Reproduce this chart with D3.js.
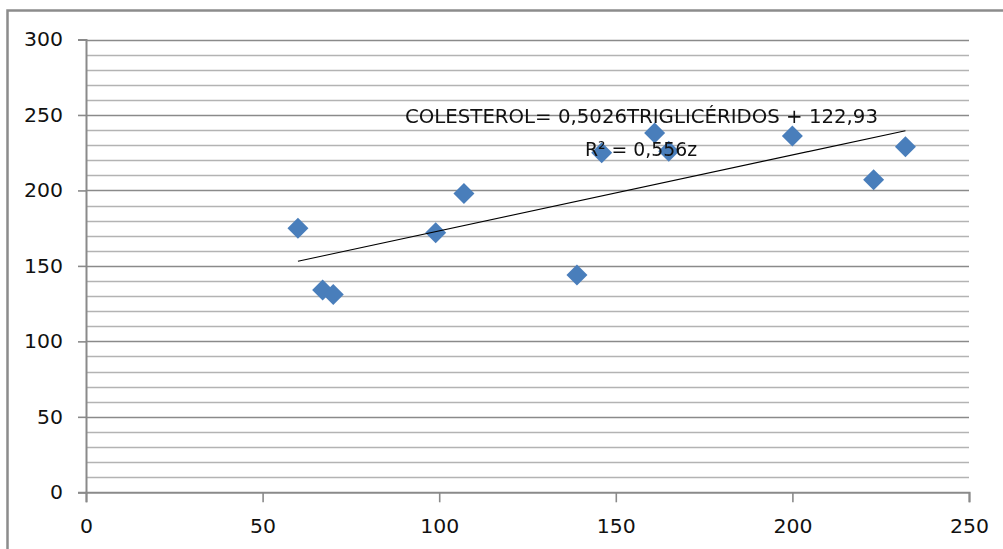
<!DOCTYPE html>
<html>
<head>
<meta charset="utf-8">
<script src="https://cdn.jsdelivr.net/npm/d3@7"></script>
<style>
  html, body { margin: 0; padding: 0; background: #fff; }
  svg { display: block; }
  text { font-family: "DejaVu Sans", "Liberation Sans", sans-serif; fill: #111; }
</style>
</head>
<body>
<svg id="chart" width="1003" height="549"></svg>
<script>
// Triglicéridos (x) vs. colesterol (y)
const trigliceridos = [60, 67, 70, 99, 107, 139, 146, 161, 165, 200, 223, 232];
const colesterol    = [175, 134, 131, 172, 198, 144, 225, 238, 226, 236, 207, 229];

const xTicks = [0, 50, 100, 150, 200, 250];
const yTicks = [0, 50, 100, 150, 200, 250, 300];
const yMinor = d3.range(0, 301, 10);

// Linear trendline as reported on the chart
const slope = 0.5026;
const intercept = 122.93;
const equationLabel = "COLESTEROL= 0,5026TRIGLICÉRIDOS + 122,93";
const r2Label = "R² = 0,556z";

const svg = d3.select("#chart");
const W = 1003, H = 549;
const plot = { left: 86, right: 969, top: 39.5, bottom: 492.3 };

const x = d3.scaleLinear().domain([0, 250]).range([plot.left, plot.right]);
const y = d3.scaleLinear().domain([0, 300]).range([plot.bottom, plot.top]);

// Chart area border
svg.append("rect")
  .attr("x", 7.5).attr("y", 10.5)
  .attr("width", W + 10).attr("height", H + 10)
  .attr("fill", "#fff")
  .attr("stroke", "#8c8c8c").attr("stroke-width", 2.5);

// Minor gridlines
svg.append("g").selectAll("line")
  .data(yMinor.filter(v => v % 50 !== 0))
  .join("line")
  .attr("x1", plot.left).attr("x2", plot.right)
  .attr("y1", d => Math.round(y(d)) + 0.5).attr("y2", d => Math.round(y(d)) + 0.5)
  .attr("stroke", "#b3b3b3").attr("stroke-width", 1.6);

// Major gridlines
svg.append("g").selectAll("line")
  .data(yTicks.filter(v => v > 0))
  .join("line")
  .attr("x1", plot.left).attr("x2", plot.right)
  .attr("y1", d => Math.round(y(d)) + 0.5).attr("y2", d => Math.round(y(d)) + 0.5)
  .attr("stroke", "#8a8a8a").attr("stroke-width", 1.6);

// Y axis
const yAxis = d3.axisLeft(y).tickValues(yTicks).tickSize(8).tickPadding(15);
const gy = svg.append("g").attr("transform", `translate(${plot.left},0)`).call(yAxis);
gy.select(".domain").attr("stroke", "#8a8a8a").attr("stroke-width", 2);
gy.selectAll(".tick line").attr("stroke", "#8a8a8a").attr("stroke-width", 1.6);
gy.selectAll(".tick text")
  .attr("font-size", 19.5).attr("fill", "#111")
  .attr("font-family", "DejaVu Sans")
  .attr("textLength", d => String(d).length * 13)
  .attr("lengthAdjust", "spacingAndGlyphs");

// X axis
const xAxis = d3.axisBottom(x).tickValues(xTicks).tickSize(10).tickPadding(17);
const gx = svg.append("g").attr("transform", `translate(0,${plot.bottom})`).call(xAxis);
gx.select(".domain").attr("stroke", "#8a8a8a").attr("stroke-width", 2);
gx.selectAll(".tick line").attr("stroke", "#8a8a8a").attr("stroke-width", 1.6);
gx.selectAll(".tick text")
  .attr("font-size", 19.5).attr("fill", "#111")
  .attr("font-family", "DejaVu Sans")
  .attr("textLength", d => String(d).length * 13)
  .attr("lengthAdjust", "spacingAndGlyphs");

// Soft edge for the markers
const defs = svg.append("defs");
defs.append("filter").attr("id", "soft")
  .append("feGaussianBlur").attr("stdDeviation", 0.5);

// Data points (diamonds, half-diagonal in px)
const half = 10.5;
const diamond = `M0,${-half}L${half},0L0,${half}L${-half},0Z`;
const points = trigliceridos.map((t, i) => ({ t, c: colesterol[i] }));
svg.append("g").attr("filter", "url(#soft)").selectAll("path")
  .data(points)
  .join("path")
  .attr("transform", d => `translate(${x(d.t)},${y(d.c)})`)
  .attr("d", diamond)
  .attr("fill", "#4a7ebb");

// Trendline across the data range
const xMin = d3.min(trigliceridos), xMax = d3.max(trigliceridos);
svg.append("line")
  .attr("x1", x(xMin)).attr("y1", y(slope * xMin + intercept))
  .attr("x2", x(xMax)).attr("y2", y(slope * xMax + intercept))
  .attr("stroke", "#000").attr("stroke-width", 1.2);

// Trendline labels
svg.append("text")
  .attr("x", 405).attr("y", 122.5)
  .attr("font-size", 20)
  .attr("textLength", 473).attr("lengthAdjust", "spacingAndGlyphs")
  .text(equationLabel);

svg.append("text")
  .attr("x", 585).attr("y", 155.5)
  .attr("font-size", 20)
  .attr("textLength", 112).attr("lengthAdjust", "spacingAndGlyphs")
  .text(r2Label);
</script>
</body>
</html>
